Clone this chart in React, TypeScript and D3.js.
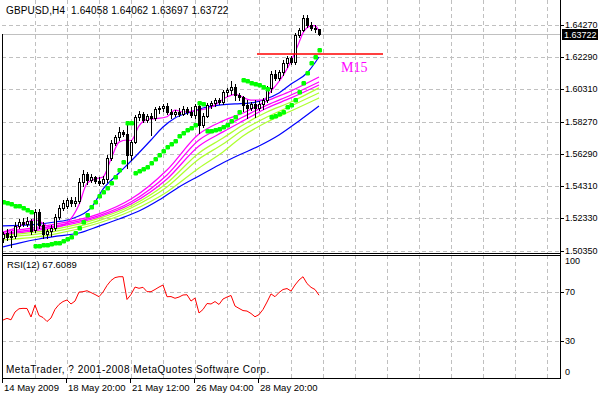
import React from 'react';
import * as d3 from 'd3';

const W = 598;
const H = 395;

// GBPUSD H4 candles, 14 May 2009 04:00 onward
const opens = [1.5112,1.5143,1.5118,1.5125,1.5186,1.5211,1.5199,1.5217,1.5162,1.5273,
 1.5193,1.5137,1.5156,1.5174,1.5242,1.5298,1.5310,1.5347,1.5329,1.5341,
 1.5458,1.5508,1.5471,1.5489,1.5465,1.5452,1.5477,1.5607,1.5700,1.5737,
 1.5767,1.5755,1.5625,1.5706,1.5860,1.5879,1.5842,1.5866,1.5854,1.5910,
 1.5916,1.5928,1.5891,1.5879,1.5891,1.5879,1.5910,1.5891,1.5873,1.5928,
 1.5811,1.5866,1.5934,1.5947,1.5965,1.5953,1.6015,1.6027,1.6046,1.5996,
 1.5984,1.5934,1.5916,1.5941,1.5916,1.5941,1.5965,1.6040,1.6126,1.6101,
 1.6138,1.6194,1.6225,1.6200,1.6367,1.6398,1.6472,1.6429,1.6410,1.64058];
const highs = [1.5149,1.5168,1.5156,1.5211,1.5230,1.5236,1.5242,1.5230,1.5292,1.5292,
 1.5211,1.5168,1.5193,1.5261,1.5316,1.5347,1.5360,1.5366,1.5366,1.5483,
 1.5533,1.5520,1.5508,1.5496,1.5489,1.5496,1.5625,1.5718,1.5749,1.5798,
 1.5780,1.5823,1.5718,1.5873,1.5897,1.5891,1.5879,1.5885,1.5922,1.5928,
 1.5941,1.5947,1.5910,1.5903,1.5916,1.5928,1.5922,1.5922,1.5941,1.5941,
 1.5885,1.5947,1.5959,1.5978,1.5978,1.6027,1.6040,1.6083,1.6064,1.6009,
 1.5990,1.5965,1.5953,1.5965,1.5959,1.5978,1.6052,1.6145,1.6151,1.6151,
 1.6213,1.6237,1.6237,1.6379,1.6410,1.6491,1.6491,1.6447,1.6429,1.64062];
const lows = [1.5088,1.5100,1.5057,1.5112,1.5174,1.5186,1.5186,1.5137,1.5149,1.5174,
 1.5112,1.5112,1.5125,1.5162,1.5230,1.5285,1.5298,1.5310,1.5310,1.5329,
 1.5434,1.5446,1.5458,1.5452,1.5440,1.5446,1.5458,1.5594,1.5687,1.5718,
 1.5743,1.5545,1.5594,1.5700,1.5842,1.5829,1.5829,1.5749,1.5842,1.5885,
 1.5897,1.5879,1.5854,1.5866,1.5866,1.5873,1.5879,1.5860,1.5854,1.5761,
 1.5798,1.5860,1.5916,1.5928,1.5941,1.5941,1.5990,1.6002,1.5965,1.5965,
 1.5897,1.5854,1.5903,1.5860,1.5903,1.5910,1.5953,1.6015,1.6089,1.6089,
 1.6120,1.6169,1.6188,1.6188,1.6355,1.6392,1.6417,1.6398,1.6386,1.63697];
const closes = [1.5137,1.5118,1.5125,1.5186,1.5211,1.5199,1.5217,1.5156,1.5273,1.5193,
 1.5137,1.5156,1.5174,1.5242,1.5298,1.5329,1.5347,1.5329,1.5341,1.5458,
 1.5508,1.5471,1.5489,1.5465,1.5452,1.5477,1.5607,1.5700,1.5737,1.5767,
 1.5755,1.5625,1.5706,1.5860,1.5879,1.5842,1.5866,1.5854,1.5910,1.5916,
 1.5928,1.5891,1.5879,1.5891,1.5879,1.5910,1.5891,1.5873,1.5928,1.5811,
 1.5866,1.5934,1.5947,1.5965,1.5953,1.6015,1.6027,1.6046,1.5996,1.5984,
 1.5934,1.5916,1.5941,1.5916,1.5941,1.5965,1.6040,1.6126,1.6101,1.6138,
 1.6194,1.6225,1.6200,1.6367,1.6398,1.6472,1.6429,1.6410,1.6404,1.63722];

// Parabolic SAR
const sar = [1.5335,1.5329,1.5322,1.5313,1.5307,1.5298,1.5285,1.5273,1.5060,1.5063,
 1.5066,1.5072,1.5075,1.5081,1.5084,1.5094,1.5103,1.5118,1.5143,1.5174,
 1.5211,1.5254,1.5304,1.5335,1.5369,1.5397,1.5421,1.5452,1.5489,1.5533,
 1.5579,1.5821,1.5821,1.5516,1.5528,1.5537,1.5553,1.5578,1.5599,1.5625,
 1.5652,1.5673,1.5693,1.5714,1.5743,1.5759,1.5780,1.5794,1.5811,1.5945,
 1.5941,1.5771,1.5774,1.5777,1.5786,1.5798,1.5811,1.5836,1.5860,1.5891,
 1.6086,1.6080,1.6073,1.6064,1.6055,1.6046,1.6033,1.5860,1.5866,1.5879,
 1.5891,1.5922,1.5934,1.5965,1.6015,1.6070,1.6132,1.6194,1.6231,1.6274];

// RSI(12)
const rsi = [47.2,48.6,47.4,53.8,56.5,56.8,56.7,49.7,59.5,50.9,
 49.3,46.0,48.9,56.0,60.0,62.4,63.7,60.4,62.8,70.2,
 70.5,71.3,69.8,68.2,66.4,70.2,75.6,79.7,82.1,82.8,
 82.8,64.1,68.2,74.3,73.3,74.1,70.5,70.5,72.3,74.3,
 76.0,66.4,66.5,65.1,66.1,67.8,68.0,62.8,65.3,53.0,
 55.9,60.8,60.4,62.4,60.0,64.5,66.1,67.4,58.7,56.8,
 55.0,54.6,52.6,49.9,51.7,55.9,62.0,68.7,66.4,69.8,
 72.3,73.1,71.0,76.0,80.1,82.8,77.2,74.1,72.3,67.6089];

// moving averages: [bar index, price]
const fastMA: [number, number][] = [[0,1.5149],[3,1.5172],[8,1.5224],[12,1.5180],[14,1.5182],[16,1.5205],[19,1.5318],[21,1.5450],[23,1.5477],[25,1.5489],[27,1.5600],[29,1.5705],[31,1.5718],[32,1.5715],[34,1.5805],[36,1.5845],[38,1.5850],[41,1.5862],[43,1.5903],[45,1.5891],[49,1.5903],[52,1.5920],[56,1.5984],[58,1.6000],[62,1.5965],[65,1.5965],[67,1.6020],[70,1.6115],[72,1.6205],[74,1.6320],[75,1.6380],[77,1.6423],[78,1.6425],[79,1.6392]];
const midMA: [number, number][] = [[0,1.5187],[7,1.5193],[13,1.5211],[17,1.5230],[22,1.5298],[25,1.5415],[29,1.5514],[33,1.5613],[37,1.5718],[40,1.5798],[43,1.5854],[47,1.5891],[50,1.5916],[54,1.5934],[58,1.5941],[62,1.5947],[65,1.5965],[69,1.6009],[72,1.6064],[76,1.6132],[79,1.6231]];
const slowMA: [number, number][] = [[0,1.5057],[4,1.5081],[9,1.5106],[14,1.5125],[19,1.5143],[24,1.5186],[29,1.5230],[34,1.5279],[39,1.5347],[44,1.5428],[49,1.5496],[54,1.5564],[59,1.5625],[64,1.5681],[69,1.5749],[74,1.5836],[79,1.5928]];

const ribbonIdx = [0, 12, 24, 32, 41, 49, 55, 60, 66, 72, 79];
const ribbon1 = [1.5149,1.5193,1.5261,1.5353,1.5533,1.5755,1.5836,1.5885,1.5959,1.6021,1.6107];
const ribbon2 = [1.5140,1.5183,1.5251,1.5335,1.5502,1.5718,1.5798,1.5860,1.5934,1.5996,1.6077];
const ribbon3 = [1.5134,1.5174,1.5242,1.5322,1.5477,1.5681,1.5768,1.5836,1.5916,1.5978,1.6058];
const ribbon4 = [1.5128,1.5162,1.5233,1.5310,1.5452,1.5638,1.5730,1.5811,1.5891,1.5953,1.6040];
const ribbon5 = [1.5118,1.5149,1.5220,1.5298,1.5428,1.5601,1.5693,1.5780,1.5860,1.5928,1.6009];
const ribbon6 = [1.5100,1.5131,1.5205,1.5279,1.5397,1.5545,1.5644,1.5743,1.5829,1.5897,1.5978];

const priceTicks = [1.6427, 1.6229, 1.6031, 1.5827, 1.5629, 1.5431, 1.5233, 1.5035];
const rsiTicks = [100, 70, 30, 0];
const rsiGrid = [70, 30];
const dateIdx = [0, 16, 32, 48, 64];
const dateLabels = ['14 May 2009', '18 May 20:00', '21 May 12:00', '26 May 04:00', '28 May 20:00'];

const lastPrice = 1.63722;
const trendStart = 63.5;
const trendEnd = 95;
const trendPrice = 1.6250;

const FONT = "'Liberation Sans', Arial, sans-serif";

export default function App() {
  const LEFT = 2, RIGHT = 560, MAIN_BOTTOM = 253, RSI_TOP = 255, RSI_BOTTOM = 378;
  const x = d3.scaleLinear().domain([0, 139.25]).range([3, 560]);
  const y = d3.scaleLinear().domain([1.5035, 1.6427]).range([250.5, 25.3]);
  const r = d3.scaleLinear().domain([0, 100]).range([377.5, 255.8]);
  const c = (v: number) => Math.round(v) + 0.5;

  const maLine = d3.line<[number, number]>().x(d => x(d[0])).y(d => y(d[1])).curve(d3.curveMonotoneX);
  const ribbons = [ribbon1, ribbon2, ribbon3, ribbon4, ribbon5, ribbon6].map(arr => arr.map((v, k) => [ribbonIdx[k], v] as [number, number]));
  const ribbonColors = ['#FF00FF', '#FF00FF', '#FF00FF', '#ADFF2F', '#ADFF2F', '#ADFF2F'];
  const rsiLine = d3.line<number>().x((_, i) => x(i)).y(d => r(d));

  const vGrid = d3.range(1, 18).map(k => c(x(k * 8)));
  const lp = Math.round(y(lastPrice));

  return (
    <svg width={W} height={H} style={{ position: 'absolute', left: 0, top: 0, background: '#fff' }} fontFamily={FONT}>
      <defs>
        <clipPath id="mainClip"><rect x={LEFT + 1} y={0} width={RIGHT - LEFT - 1} height={MAIN_BOTTOM} /></clipPath>
        <clipPath id="rsiClip"><rect x={LEFT + 1} y={RSI_TOP + 1} width={RIGHT - LEFT - 1} height={RSI_BOTTOM - RSI_TOP - 1} /></clipPath>
      </defs>
      <rect x={0} y={0} width={W} height={H} fill="#fff" />
      {/* grid main */}
      <g stroke="#C0C0C0" strokeDasharray="4,3" shapeRendering="crispEdges">
        {priceTicks.map(t => <line key={'h' + t} x1={LEFT} x2={RIGHT} y1={c(y(t))} y2={c(y(t))} />)}
        {vGrid.map(v => <line key={'v' + v} x1={v} x2={v} y1={0} y2={MAIN_BOTTOM} />)}
        {rsiGrid.map(t => <line key={'r' + t} x1={LEFT} x2={RIGHT} y1={c(r(t))} y2={c(r(t))} />)}
        {vGrid.map(v => <line key={'rv' + v} x1={v} x2={v} y1={RSI_TOP} y2={RSI_BOTTOM} />)}
      </g>
      {/* last price line */}
      <line x1={LEFT} x2={RIGHT} y1={lp + 0.5} y2={lp + 0.5} stroke="#C0C0C0" shapeRendering="crispEdges" />
      <g clipPath="url(#mainClip)">
        {/* ribbon MAs */}
        {ribbons.map((pts, k) => (
          <path key={'rb' + k} d={maLine(pts) || ''} fill="none" stroke={ribbonColors[k]} strokeWidth={1.25} />
        ))}
        <path d={maLine(slowMA) || ''} fill="none" stroke="#0000FF" strokeWidth={1.2} />
        <path d={maLine(midMA) || ''} fill="none" stroke="#0000FF" strokeWidth={1.2} />
        <path d={maLine(fastMA) || ''} fill="none" stroke="#FF00FF" strokeWidth={1.2} />
        {/* candles */}
        <g shapeRendering="crispEdges">
          {opens.map((o, i) => {
            const cx = Math.round(x(i));
            const cl = closes[i];
            const top = Math.round(y(Math.max(o, cl)));
            const bot = Math.round(y(Math.min(o, cl)));
            const bull = cl >= o;
            return (
              <g key={'c' + i}>
                <line x1={cx + 0.5} x2={cx + 0.5} y1={Math.round(y(highs[i]))} y2={Math.round(y(lows[i])) + 1} stroke="#000" />
                <rect x={cx - 0.5} y={top + 0.5} width={2} height={Math.max(bot - top, 0)} fill={bull ? '#fff' : '#000'} stroke="#000" />
              </g>
            );
          })}
        </g>
        {/* parabolic SAR */}
        {sar.map((v, i) => (
          <rect key={'s' + i} x={Math.round(x(i)) - 1.5} y={Math.round(y(v)) - 2} width={4.5} height={4.5} rx={1.2} fill="#00FF00" />
        ))}
        {/* trendline */}
        <line x1={x(trendStart)} x2={x(trendEnd)} y1={y(trendPrice)} y2={y(trendPrice)} stroke="#FF0000" strokeWidth={1.6} />
        <text x={x(trendStart + 21)} y={y(trendPrice) + 18} fill="#FF00FF" fontFamily="'Liberation Serif', 'Times New Roman', serif" fontSize={14}>M15</text>
      </g>
      {/* RSI */}
      <g clipPath="url(#rsiClip)">
        <path d={rsiLine(rsi) || ''} fill="none" stroke="#FF0000" strokeWidth={1} />
      </g>
      {/* frames */}
      <g stroke="#000" shapeRendering="crispEdges" fill="none">
        <line x1={LEFT + 0.5} x2={LEFT + 0.5} y1={lp} y2={RSI_BOTTOM + 1} />
        <line x1={RIGHT + 0.5} x2={RIGHT + 0.5} y1={0} y2={RSI_BOTTOM + 1} />
        <line x1={LEFT} x2={RIGHT + 1} y1={MAIN_BOTTOM + 0.5} y2={MAIN_BOTTOM + 0.5} />
        <line x1={LEFT} x2={RIGHT + 1} y1={RSI_TOP + 0.5} y2={RSI_TOP + 0.5} />
        <line x1={LEFT} x2={RIGHT + 1} y1={RSI_BOTTOM + 0.5} y2={RSI_BOTTOM + 0.5} />
        {priceTicks.map(t => <line key={'pt' + t} x1={RIGHT} x2={RIGHT + 4} y1={c(y(t))} y2={c(y(t))} />)}
        {rsiGrid.map(t => <line key={'rt' + t} x1={RIGHT} x2={RIGHT + 4} y1={c(r(t))} y2={c(r(t))} />)}
        {dateIdx.map(i => <line key={'dt' + i} x1={c(x(i)) - 1} x2={c(x(i)) - 1} y1={RSI_BOTTOM} y2={RSI_BOTTOM + 5} />)}
      </g>
      {/* texts */}
      <g fontSize={9} fill="#000">
        <text x={6} y={14} fontSize={10} letterSpacing={0.15} style={{ whiteSpace: 'pre' }}>{'GBPUSD,H4  1.64058 1.64062 1.63697 1.63722'}</text>
        {priceTicks.map(t => (
          <text key={'pl' + t} x={565} y={y(t) + 3}>{t.toFixed(5)}</text>
        ))}
        <rect x={562} y={lp - 5} width={36} height={11} fill="#000" />
        <text x={564} y={lp + 3.5} fill="#fff">{lastPrice.toFixed(5)}</text>
        {rsiTicks.map(t => (
          <text key={'rl' + t} x={565} y={t === 100 ? r(t) + 8 : t === 0 ? r(t) - 3 : r(t) + 3}>{t}</text>
        ))}
        <text x={7} y={268} fontSize={9.5}>RSI(12) 67.6089</text>
        <text x={6} y={373} fontSize={10} letterSpacing={0.5}>MetaTrader, ? 2001-2008 MetaQuotes Software Corp.</text>
        {dateIdx.map((i, k) => (
          <text key={'dl' + i} x={x(i) + 1} y={391} fontSize={9.5}>{dateLabels[k]}</text>
        ))}
      </g>
    </svg>
  );
}
